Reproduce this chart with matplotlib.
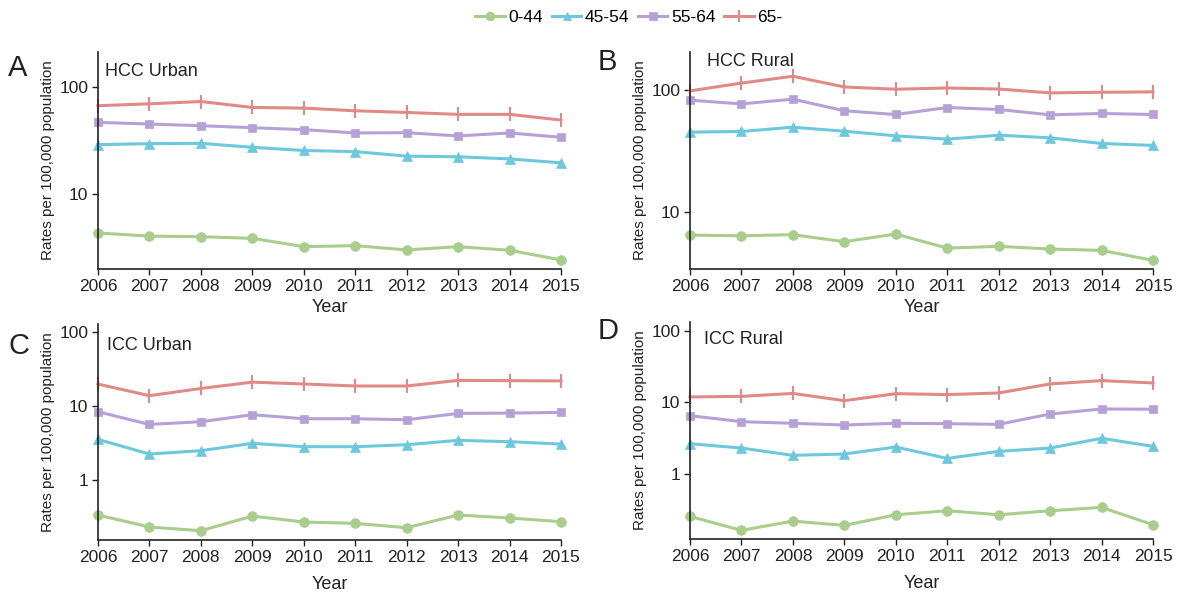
import matplotlib
matplotlib.use("Agg")
from matplotlib import pyplot as plt
from matplotlib.lines import Line2D
from matplotlib.ticker import FixedLocator, NullLocator, FixedFormatter

plt.rcParams['font.family'] = ['Liberation Sans', 'DejaVu Sans']

years = [2006, 2007, 2008, 2009, 2010, 2011, 2012, 2013, 2014, 2015]
groups = ['0-44', '45-54', '55-64', '65-']

# A: HCC Urban
hcc_urban_0_44 = [4.33, 4.05, 4.0, 3.86, 3.23, 3.30, 3.01, 3.23, 2.99, 2.43]
hcc_urban_45_54 = [28.8, 29.4, 29.6, 27.2, 25.4, 24.8, 22.5, 22.2, 21.2, 19.5]
hcc_urban_55_64 = [46.4, 44.8, 43.2, 41.4, 39.7, 37.0, 37.2, 34.7, 37.0, 33.7]
hcc_urban_65 = [66.3, 69.1, 72.6, 63.9, 63.0, 59.5, 57.4, 55.1, 55.1, 48.8]

# B: HCC Rural
hcc_rural_0_44 = [6.44, 6.36, 6.49, 5.69, 6.57, 5.04, 5.21, 4.95, 4.83, 4.0]
hcc_rural_45_54 = [44.8, 45.4, 49.2, 45.6, 41.8, 39.3, 42.3, 40.3, 36.2, 34.9]
hcc_rural_55_64 = [81.8, 76.3, 83.4, 67.0, 62.5, 71.3, 68.7, 62.1, 63.7, 62.5]
hcc_rural_65 = [97.5, 113, 128.5, 105, 100.6, 103, 101, 93.9, 95, 95.7]

# C: ICC Urban
icc_urban_0_44 = [0.336, 0.231, 0.206, 0.325, 0.27, 0.259, 0.226, 0.336, 0.306, 0.273]
icc_urban_45_54 = [3.55, 2.25, 2.50, 3.14, 2.83, 2.83, 3.01, 3.45, 3.31, 3.07]
icc_urban_55_64 = [8.42, 5.67, 6.17, 7.67, 6.77, 6.77, 6.56, 8.0, 8.07, 8.25]
icc_urban_65 = [19.95, 13.9, 17.4, 21.2, 20.0, 18.8, 18.8, 22.4, 22.2, 22.0]

# D: ICC Rural
icc_rural_0_44 = [0.251, 0.16, 0.216, 0.188, 0.265, 0.302, 0.265, 0.302, 0.336, 0.192]
icc_rural_45_54 = [2.64, 2.29, 1.81, 1.89, 2.37, 1.64, 2.06, 2.29, 3.14, 2.42]
icc_rural_55_64 = [6.53, 5.38, 5.1, 4.83, 5.1, 5.04, 4.93, 6.89, 8.1, 8.05]
icc_rural_65 = [11.95, 12.2, 13.4, 10.6, 13.3, 12.9, 13.6, 18.2, 20.3, 18.8]

colors = ['#a9cd8c', '#6ec8dc', '#b6a1d6', '#e08a86']
markers = ['o', '^', 's', '|']
msizes = [7, 6.5, 6, 10]

W, H = 1182, 592

# letter, title, data, axes box, ylim, yticks, letter pos (px), title pos (px), xlabel pad
panels = [
    ('A', 'HCC Urban', [hcc_urban_0_44, hcc_urban_45_54, hcc_urban_55_64, hcc_urban_65],
     [0.0829, 0.5456, 0.3917, 0.3666], (2.0, 210), [10, 100], (8, 68), (105, 72), 4),
    ('B', 'HCC Rural', [hcc_rural_0_44, hcc_rural_45_54, hcc_rural_55_64, hcc_rural_65],
     [0.5838, 0.5456, 0.3917, 0.3666], (3.4, 203), [10, 100], (598, 62), (707, 62), 4),
    ('C', 'ICC Urban', [icc_urban_0_44, icc_urban_45_54, icc_urban_55_64, icc_urban_65],
     [0.0829, 0.0878, 0.3917, 0.3649], (0.154, 130), [1, 10, 100], (8, 346), (107, 345), 8),
    ('D', 'ICC Rural', [icc_rural_0_44, icc_rural_45_54, icc_rural_55_64, icc_rural_65],
     [0.5838, 0.0895, 0.3917, 0.3666], (0.121, 135), [1, 10, 100], (598, 331), (704, 340), 8),
]

fig = plt.figure(figsize=(11.82, 5.92), dpi=100)

for letter, title, series, pos, ylim, yt, lpos, tpos, xpad in panels:
    ax = fig.add_axes(pos)
    for vals, c, m, ms in zip(series, colors, markers, msizes):
        ax.plot(years, vals, color=c, marker=m, markersize=ms, lw=2.2,
                markeredgewidth=1.5 if m == '|' else 0.5, clip_on=False)
    ax.set_yscale('log')
    ax.set_ylim(*ylim)
    ax.set_xlim(2006, 2015)
    ax.yaxis.set_major_locator(FixedLocator(yt))
    ax.yaxis.set_major_formatter(FixedFormatter([str(v) for v in yt]))
    ax.yaxis.set_minor_locator(NullLocator())
    ax.set_xticks(years)
    for s in ['top', 'right']:
        ax.spines[s].set_visible(False)
    for s in ['left', 'bottom']:
        ax.spines[s].set_linewidth(1.2)
        ax.spines[s].set_color('#222222')
    ax.tick_params(axis='both', labelsize=12.5, length=4, width=1, colors='#222222', pad=3)
    ax.set_xlabel('Year', fontsize=13, labelpad=xpad, color='#222222')
    ax.set_ylabel('Rates per 100,000 population', fontsize=11, labelpad=3, color='#222222')
    fig.text(tpos[0] / W, 1 - tpos[1] / H, title, fontsize=13, va='center', color='#222222')
    fig.text(lpos[0] / W, 1 - lpos[1] / H, letter, fontsize=21, va='center', color='#222222')

handles = [Line2D([], [], color=c, marker=m, markersize=ms * 0.9, lw=2.2,
                  markeredgewidth=1.5 if m == '|' else 0.5)
           for c, m, ms in zip(colors, markers, msizes)]
fig.legend(handles, groups, loc='upper center', bbox_to_anchor=(0.532, 1.01), ncol=4,
           frameon=False, fontsize=12.5, handlelength=1.7, handletextpad=0.2, columnspacing=0.5)

plt.savefig('out.png', dpi=100)
